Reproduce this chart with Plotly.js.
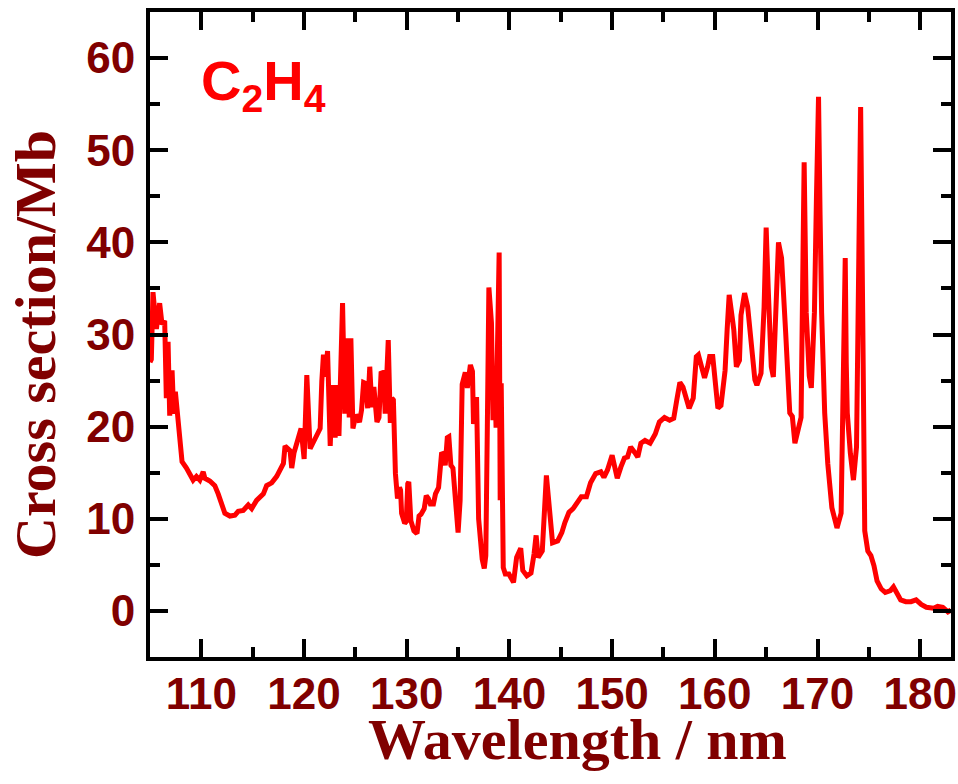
<!DOCTYPE html>
<html>
<head>
<meta charset="utf-8">
<script src="https://cdn.plot.ly/plotly-3.0.1.min.js"></script>
<style>html,body{margin:0;padding:0;background:#fff;}#chart{width:958px;height:784px;}</style>
</head>
<body>
<div id="chart"></div>
<script>
const wavelength = [
105.0,105.13,105.29,105.62,105.94,106.17,106.43,106.59,106.76,106.92,107.15,107.31,107.47,107.67,107.90,108.12,108.55,109.20,109.52,109.85,
110.18,110.34,110.83,111.31,111.64,111.97,112.29,112.78,113.27,113.59,114.08,114.57,114.90,115.38,116.04,116.36,116.85,117.34,117.66,117.99,
118.15,118.64,118.80,119.03,119.45,119.71,120.01,120.27,120.59,120.92,121.24,121.57,121.73,121.89,122.06,122.29,122.55,122.77,123.03,123.20,
123.40,123.75,123.97,124.25,124.40,124.56,124.76,125.05,125.4,125.6,125.8,126.0,126.2,126.4,126.6,126.8,127.1,127.3,127.5,127.75,
127.9,128.2,128.4,128.55,128.7,128.9,129.1,129.3,129.4,129.5,129.8,129.95,130.1,130.2,130.4,130.7,131.0,131.2,131.4,131.7,
131.9,132.1,132.3,132.6,132.8,133.1,133.4,133.55,133.75,133.95,134.1,134.3,134.5,134.8,135.0,135.2,135.4,135.7,135.9,136.2,
136.4,136.5,136.8,137.0,137.2,137.35,137.55,137.7,137.85,138.0,138.25,138.4,138.55,138.7,139.0,139.1,139.2,139.4,139.6,139.95,
140.4,140.7,141.1,141.3,141.7,142.1,142.4,142.6,142.8,143.2,143.6,143.9,144.2,144.7,145.1,145.4,145.8,146.2,146.6,147.0,
147.5,147.9,148.4,148.9,149.2,149.55,150.0,150.3,150.5,150.85,151.2,151.5,151.8,152.2,152.5,152.8,153.2,153.7,154.2,154.6,
155.1,155.6,156.0,156.3,156.6,156.9,157.2,157.5,157.9,158.2,158.4,158.7,159.0,159.3,159.5,159.8,160.1,160.3,160.6,161.0,
161.2,161.4,161.7,161.85,162.1,162.4,162.55,162.9,163.2,163.5,163.9,164.1,164.5,164.8,165.0,165.2,165.5,165.7,166.0,166.2,
166.5,166.6,166.9,167.3,167.55,167.8,168.1,168.4,168.55,168.7,168.9,169.2,169.4,169.7,169.9,170.1,170.25,170.4,170.7,171.0,
171.4,171.9,172.3,172.5,172.7,172.8,172.9,173.2,173.5,173.8,174.0,174.2,174.4,174.6,174.9,175.2,175.5,175.8,176.2,176.6,
177.1,177.4,177.7,178.1,178.6,179.1,179.6,180.1,180.6,181.3,181.7,182.2,182.7,183.0
];
const crossSection = [
27.0,27.3,34.6,30.6,33.4,31.1,31.5,23.1,29.2,21.2,26.1,21.4,23.8,21.6,18.1,16.2,15.5,14.2,14.6,14.2,
15.1,14.4,14.1,13.6,12.7,11.5,10.6,10.3,10.4,10.8,10.9,11.5,11.1,12.0,12.7,13.6,13.9,14.6,15.3,16.0,
17.9,17.4,15.5,17.2,18.8,19.8,16.5,25.6,17.6,18.4,19.3,19.8,24.9,27.8,25.4,28.2,17.9,24.5,18.8,24.5,
19.0,33.4,21.4,29.6,21.0,29.6,19.8,21.3,20.5,21.8,24.8,24.7,22.0,26.5,22.1,24.3,20.5,21.0,25.8,25.9,
21.4,29.4,20.4,23.1,22.9,14.9,12.2,13.4,13.1,10.6,9.5,9.7,13.8,14.0,9.8,8.7,8.4,10.3,10.5,11.1,
12.5,12.2,11.6,11.6,12.7,13.4,17.2,17.0,15.8,18.8,18.9,15.8,15.5,10.1,8.5,12.0,24.6,25.9,24.2,26.7,
26.0,20.3,23.2,10.0,7.0,5.6,4.6,6.0,20.0,35.1,31.3,20.7,25.8,19.9,38.9,12.0,24.7,4.7,4.0,4.0,
3.1,5.8,6.8,4.4,3.8,4.1,6.2,8.2,5.8,6.5,14.7,10.9,7.4,7.6,8.5,9.6,10.7,11.1,11.8,12.4,
12.4,13.9,14.9,15.1,14.5,15.3,16.9,15.1,14.4,15.6,16.6,16.7,17.8,17.2,16.7,18.2,18.5,18.2,19.2,20.5,
21.0,20.7,20.9,22.9,24.8,24.3,22.9,22.0,23.1,27.6,27.8,26.5,25.3,26.5,27.6,27.6,24.0,22.0,22.3,26.1,
30.5,34.3,31.8,30.5,26.5,27.2,32.1,34.5,33.0,29.4,25.1,24.5,25.8,33.0,41.6,35.0,26.5,25.4,33.0,40.0,
38.3,36.5,30.2,21.5,21.1,18.2,19.6,21.0,35.0,48.7,32.4,25.5,24.2,32.4,45.0,55.8,43.0,32.4,21.5,16.0,
11.2,9.0,10.6,25.0,38.3,26.9,21.5,17.1,14.2,17.8,32.4,54.7,32.4,8.7,6.5,6.0,4.9,3.25,2.4,2.0,
2.2,2.6,2.0,1.2,1.0,1.0,1.2,0.7,0.4,0.3,0.5,0.4,-0.1,0.1
];
const xTickVals = [110,120,130,140,150,160,170,180];
const yTickVals = [0,10,20,30,40,50,60];
const xTitle = 'Wavelength / nm';
const yTitle = 'Cross section/Mb';
const label = 'C<sub>2</sub>H<sub>4</sub>';

const dark = '#800000';
const tickFont = {family: 'Liberation Sans, Arial, sans-serif', size: 44, color: dark, weight: 'bold'};
const titleFont = {family: 'Liberation Serif, Times New Roman, serif', size: 58, color: dark, weight: 'bold'};

const axisCommon = {
  showgrid: false, zeroline: false,
  showline: true, linecolor: '#000', linewidth: 4, mirror: 'ticks',
  ticks: 'inside', ticklen: 18, tickwidth: 4, tickcolor: '#000',
  tickfont: tickFont,
};

const trace = {
  x: wavelength, y: crossSection, type: 'scatter', mode: 'lines',
  line: {color: '#ff0000', width: 5}, hoverinfo: 'skip'
};

const layout = {
  width: 958, height: 784,
  margin: {l: 150, r: 7, t: 12, b: 127},
  paper_bgcolor: '#fff', plot_bgcolor: '#fff',
  showlegend: false,
  xaxis: Object.assign({}, axisCommon, {
    range: [105, 183], tickvals: xTickVals, ticktext: xTickVals.map(String),
    minor: {dtick: 5, tick0: 105, ticks: 'inside', ticklen: 10, tickwidth: 4, tickcolor: '#000', showgrid: false},
    ticklabelstandoff: -5
  }),
  yaxis: Object.assign({}, axisCommon, {
    range: [-5, 65], tickvals: yTickVals, ticktext: yTickVals.map(String),
    minor: {dtick: 5, tick0: -5, ticks: 'inside', ticklen: 10, tickwidth: 4, tickcolor: '#000', showgrid: false},
    ticklabelstandoff: 2
  }),
  annotations: [
    {text: label, xref: 'paper', yref: 'paper', x: (199-150)/801, y: (657-47)/645,
     xanchor: 'left', yanchor: 'top', showarrow: false,
     font: {family: 'Liberation Sans, Arial, sans-serif', size: 56, color: '#ff0000', weight: 'bold'}},
    {text: xTitle, xref: 'paper', yref: 'paper', x: (577-150)/801, y: (657-705)/645,
     xanchor: 'center', yanchor: 'top', showarrow: false, font: titleFont},
    {text: yTitle, xref: 'paper', yref: 'paper', x: (35-150)/801, y: (657-345)/645,
     xanchor: 'center', yanchor: 'middle', showarrow: false, textangle: -90, font: titleFont}
  ]
};

Plotly.newPlot('chart', [trace], layout, {staticPlot: true, displayModeBar: false});
</script>
</body>
</html>
